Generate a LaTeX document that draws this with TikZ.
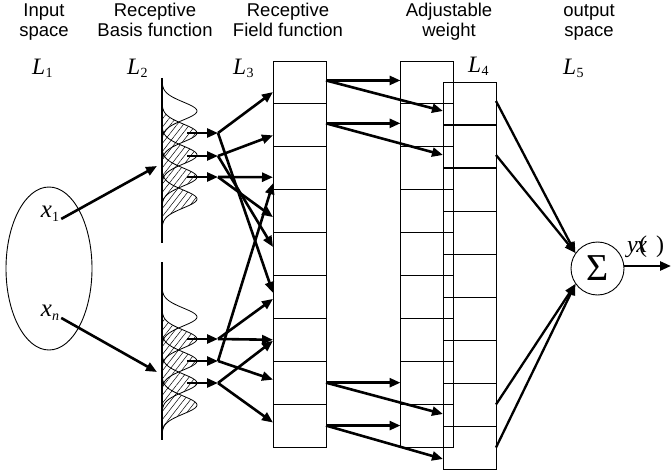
\documentclass[tikz,border=0pt]{standalone}
\usepackage{fontspec}
\setmainfont{Liberation Serif}
\setsansfont{Liberation Sans}
\usetikzlibrary{arrows.meta,shapes.geometric,patterns.meta}

% layer symbol L with a lowered index
\newcommand\laysym[1]{\textit{L}\kern0.3pt\raisebox{-3pt}{\fontsize{14}{14}\selectfont #1}}
% Gaussian receptive bump centred at #1
\newcommand\bumpx[2]{{162+35*exp(-((#2-#1)^2)/162)}}

\begin{document}
\begin{tikzpicture}[x=1pt,y=-1pt,
  thinline/.style={line width=0.9pt},
  cell/.style={draw,line width=0.9pt,minimum width=53pt,minimum height=42.9pt,
    inner sep=0pt,outer sep=0pt},
  wire/.style={line width=2.6pt,-{Triangle[length=11pt,width=9pt]}},
  fanin/.style={line width=2.3pt,-{Triangle[length=11pt,width=9pt]}},
  head/.style={font=\sffamily\fontsize{18.5}{20}\selectfont,anchor=base,inner sep=0pt},
  layer/.style={font=\fontsize{23.5}{24}\selectfont,anchor=base west,inner sep=0pt},
  var/.style={font=\fontsize{25}{25}\selectfont,inner sep=0pt},
]
\useasboundingbox (0,0) rectangle (671,473);

% column headings
\node[head] (h1a) at (44,17) {Input};
\node[head] (h1b) at (44,37) {space};
\node[head] (h2a) at (155,17) {Receptive};
\node[head] (h2b) at (155,37) {Basis function};
\node[head] (h3a) at (288,17) {Receptive};
\node[head] (h3b) at (288,37) {Field function};
\node[head] (h4a) at (449,17) {Adjustable};
\node[head] (h4b) at (449,37) {weight};
\node[head] (h5a) at (589,17) {output};
\node[head] (h5b) at (589,37) {space};

% layer symbols
\node[layer] (l1) at (32,75) {\laysym1};
\node[layer] (l2) at (127,75) {\laysym2};
\node[layer] (l3) at (233,75) {\laysym3};
\node[layer] (l4) at (468,73) {\laysym4};
\node[layer] (l5) at (563,75) {\laysym5};

% input space
\node[draw,thinline,ellipse,minimum width=86pt,minimum height=163pt,inner sep=0pt]
  (space) at (49,268.5) {};
\node[var] (x1) at (50,214) {\textit{x}\raisebox{-4pt}{\fontsize{14}{14}\selectfont 1}};
\node[var] (xn) at (50,313) {\textit{x}\raisebox{-4pt}{\fontsize{14}{14}\selectfont\textit{n}}};

% receptive basis functions: hatching, bumps, axes
\fill[pattern={Lines[angle=52,distance=5pt,line width=0.5pt]}]
  foreach \c in {133,155,177,199,339,361,383,405} {
    (162,\c-30) -- plot[domain=\c-30:\c+30,samples=41] (\bumpx{\c}{\x},\x) -- cycle };
\foreach \c in {111,133,155,177,199,317,339,361,383,405}
  \draw[line width=0.8pt] plot[domain=\c-30:\c+30,samples=41,smooth] (\bumpx{\c}{\x},\x);
\draw[line width=1.1pt] (162,78) -- (162,243);
\draw[line width=1.1pt] (162,262) -- (162,440);

\coordinate (a1) at (157,166);
\coordinate (an) at (157,372);
\draw[wire] ([xshift=2pt,yshift=3pt]x1.south east) -- (a1);
\draw[wire] ([xshift=2pt,yshift=3pt]xn.south east) -- (an);

% short outputs of the basis functions
\foreach \n/\y in {1/133,2/156,3/177,4/339,5/361,6/383} {
  \coordinate (s\n) at (187,\y);
  \coordinate (t\n) at (218,\y);
  \draw[wire] (s\n) -- (t\n);
}

% receptive field cells and weight columns
\foreach \i in {1,...,9} {
  \node[cell] (r\i) at (299.5,{61+(\i-0.5)*42.89}) {};
  \node[cell] (w\i) at (427,{61+(\i-0.5)*42.89}) {};
}
\foreach \i in {1,...,9}
  \node[cell] (f\i) at (469.5,{82+(\i-0.5)*43}) {};

% basis functions -> receptive field cells
\draw[wire] (t1) -- ([yshift=-9.6pt]r1.west);
\draw[wire] (t1) -- ([yshift=4pt]r6.west);
\draw[wire] (t2) -- ([yshift=-10pt]r2.west);
\draw[wire] (t2) -- ([yshift=7pt]r5.west);
\draw[wire] (t3) -- ([yshift=-9pt]r3.west);
\draw[wire] (t3) -- ([yshift=-6pt]r4.west);
\draw[wire] (t4) -- ([yshift=-2pt]r6.west);
\draw[wire] (t4) -- ([yshift=0pt]r7.west);
\draw[wire] (t5) -- ([yshift=-15pt]r3.west);
\draw[wire] (t5) -- ([yshift=3pt]r8.west);
\draw[wire] (t6) -- ([yshift=-1pt]r7.west);
\draw[wire] (t6) -- ([yshift=3pt]r9.west);

% receptive field cells -> weights
\draw[wire] ([yshift=2pt]r1.east) -- ([yshift=2pt]w1.west);
\draw[wire] ([yshift=2pt]r1.east) -- ([yshift=-7.5pt]f1.west);
\draw[wire] ([yshift=2pt]r2.east) -- ([yshift=2pt]w2.west);
\draw[wire] ([yshift=2pt]r2.east) -- ([yshift=-8.5pt]f2.west);
\draw[wire] (r8.east) -- (w8.west);
\draw[wire] (r8.east) -- ([yshift=-9.5pt]f8.west);
\draw[wire] (r9.east) -- (w9.west);
\draw[wire] (r9.east) -- ([yshift=-11.5pt]f9.west);

% summation node and output
\node[draw,thinline,circle,minimum size=53pt,inner sep=0pt,
  font=\fontsize{38}{38}\selectfont] (sig) at (597.5,268.5) {\raisebox{-1pt}{Σ}};
\draw[fanin] ([yshift=2.5pt]f1.east) -- (sig.145);
\draw[fanin] ([yshift=-8.5pt]f2.east) -- (sig.145);
\draw[fanin] (f8.east) -- (sig.215);
\draw[fanin] (f9.east) -- (sig.215);
\coordinate (out) at (671,266);
\draw[wire] (sig.east |- out) -- (out);
\node[font=\fontsize{24}{24}\selectfont,anchor=base west,inner sep=0pt] (yl) at (627,252)
  {\textit{y}\kern-1.5pt\textit{x}\kern-8pt(\kern9pt)};
\end{tikzpicture}
\end{document}
